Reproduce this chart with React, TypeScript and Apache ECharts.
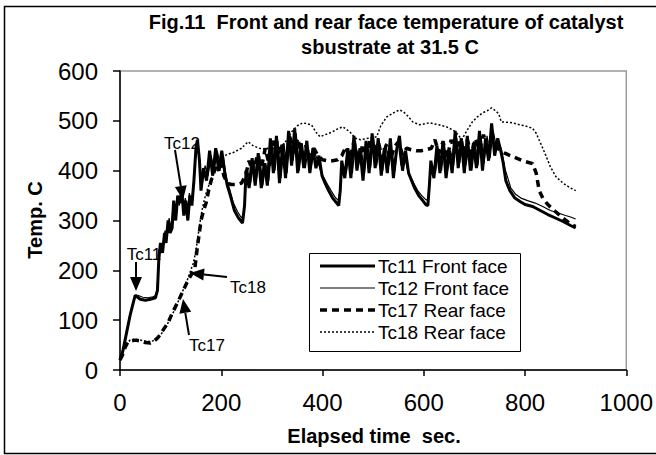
import React, { useEffect, useRef } from "react";
import * as echarts from "echarts";

const FONT = "'Liberation Sans', Arial, sans-serif";

const seriesNames = ["Tc11 Front face", "Tc12 Front face", "Tc17 Rear face", "Tc18 Rear face"];
const titleLines = ["Fig.11  Front and rear face temperature of catalyst", "sbustrate at 31.5 C"];
const xAxisTitle = "Elapsed time  sec.";
const yAxisTitle = "Temp. C";
const annotationLabels = ["Tc11", "Tc12", "Tc17", "Tc18"];

// [elapsed time (s), temperature (C)]
const tc11: number[][] = [
  [0, 20], [5, 35], [10, 60], [15, 85], [20, 110], [25, 130], [30, 150], [35, 146], [40, 142], [50, 140], [60, 142], [70, 145],
  [74, 160], [77, 230], [80, 255], [84, 235], [88, 275], [91, 255], [95, 300], [99, 275], [103, 285], [106, 340], [110, 300],
  [114, 350], [118, 335], [122, 360], [126, 310], [130, 340], [134, 300], [138, 350], [142, 330], [146, 380], [150, 445],
  [153, 462], [157, 420], [160, 360], [165, 405], [171, 380], [177, 440], [183, 390], [189, 445], [195, 400], [201, 440],
  [207, 395], [212, 370], [218, 350], [226, 320], [234, 305], [242, 295], [246, 330], [249, 400], [255, 365], [261, 425],
  [267, 370], [273, 435], [279, 365], [285, 415], [291, 370], [297, 465], [303, 395], [309, 470], [315, 375], [321, 450],
  [327, 385], [333, 480], [339, 410], [345, 485], [351, 395], [357, 455], [363, 405], [369, 460], [375, 395], [381, 445],
  [387, 405], [393, 430], [399, 390], [405, 375], [412, 360], [420, 345], [428, 335], [432, 330], [435, 360], [438, 420],
  [444, 385], [450, 445], [456, 385], [462, 470], [468, 400], [474, 445], [480, 380], [486, 460], [492, 395], [498, 475],
  [504, 405], [510, 465], [516, 390], [522, 445], [528, 395], [534, 465], [540, 385], [546, 440], [552, 470], [558, 400],
  [564, 440], [570, 395], [576, 380], [582, 365], [590, 350], [598, 340], [604, 332], [608, 330], [611, 370], [614, 420],
  [620, 385], [626, 450], [632, 395], [638, 460], [644, 385], [650, 440], [656, 395], [662, 480], [668, 405], [674, 465],
  [680, 395], [686, 470], [692, 400], [698, 455], [704, 405], [710, 480], [716, 400], [722, 465], [728, 420], [734, 495],
  [740, 430], [746, 465], [752, 440], [757, 415], [762, 380], [770, 360], [780, 345], [790, 338], [800, 332], [815, 328],
  [830, 320], [845, 312], [860, 305], [875, 298], [890, 290], [900, 285],
];

const tc12: number[][] = [
  [0, 25], [5, 40], [10, 62], [15, 88], [20, 112], [25, 132], [30, 148], [35, 150], [45, 146], [55, 145], [65, 147], [72, 150],
  [76, 200], [80, 245], [85, 250], [89, 280], [93, 265], [97, 305], [101, 285], [105, 330], [109, 310], [113, 345], [117, 330],
  [121, 350], [125, 325], [129, 345], [133, 315], [137, 355], [141, 335], [147, 390], [151, 450], [154, 455], [158, 400],
  [162, 370], [168, 410], [174, 390], [180, 430], [186, 400], [192, 440], [198, 410], [204, 430], [210, 385], [216, 365],
  [224, 335], [232, 318], [240, 305], [245, 315], [248, 380], [252, 400], [258, 375], [264, 420], [270, 385], [276, 430],
  [282, 370], [288, 415], [294, 380], [300, 455], [306, 400], [312, 460], [318, 385], [324, 455], [330, 395], [336, 470],
  [342, 420], [348, 475], [354, 400], [360, 455], [366, 405], [372, 445], [378, 410], [384, 440], [390, 420], [396, 400],
  [403, 385], [410, 372], [418, 358], [426, 345], [432, 340], [436, 380], [441, 410], [447, 395], [453, 440], [459, 395],
  [465, 460], [471, 410], [477, 440], [483, 395], [489, 455], [495, 405], [501, 465], [507, 410], [513, 450], [519, 400],
  [525, 455], [531, 410], [537, 440], [543, 400], [549, 460], [555, 410], [561, 435], [567, 405], [573, 390], [580, 375],
  [588, 360], [596, 350], [604, 342], [609, 340], [612, 385], [617, 410], [623, 395], [629, 445], [635, 400], [641, 450],
  [647, 400], [653, 440], [659, 410], [665, 465], [671, 415], [677, 460], [683, 410], [689, 445], [695, 400], [701, 455],
  [707, 410], [713, 470], [719, 415], [725, 470], [731, 425], [737, 480], [743, 450], [749, 455], [754, 440], [760, 405],
  [766, 385], [772, 365], [782, 352], [792, 345], [805, 340], [820, 335], [835, 328], [850, 320], [865, 315], [880, 310],
  [890, 307], [900, 303],
];

const tc17: number[][] = [
  [0, 20], [5, 30], [10, 45], [15, 55], [20, 58], [30, 60], [40, 58], [50, 55], [60, 54], [65, 56], [75, 65], [85, 80],
  [95, 95], [105, 118], [115, 138], [125, 160], [132, 175], [140, 190], [148, 205], [152, 240], [156, 270], [160, 300],
  [165, 320], [170, 335], [175, 360], [180, 380], [185, 395], [190, 410], [195, 400], [200, 420], [205, 390], [212, 375],
  [220, 372], [230, 372], [240, 375], [248, 390], [255, 420], [263, 395], [271, 430], [279, 405], [287, 445], [295, 410],
  [303, 460], [311, 425], [319, 455], [327, 415], [335, 470], [343, 435], [351, 465], [359, 430], [367, 450], [375, 425],
  [383, 445], [391, 430], [400, 422], [410, 420], [420, 420], [430, 422], [438, 430], [446, 448], [454, 425], [462, 458],
  [470, 420], [478, 448], [486, 425], [494, 462], [502, 435], [510, 458], [518, 425], [526, 452], [534, 422], [542, 448],
  [550, 458], [558, 432], [566, 445], [575, 442], [585, 440], [595, 440], [605, 442], [615, 445], [622, 462], [630, 435],
  [638, 458], [646, 425], [654, 462], [662, 435], [670, 458], [678, 428], [686, 462], [694, 432], [702, 465], [710, 440],
  [718, 472], [726, 445], [734, 465], [742, 450], [750, 441], [760, 435], [776, 428], [795, 420], [815, 414], [822, 395],
  [828, 360], [835, 345], [845, 332], [860, 318], [875, 305], [890, 293], [900, 288],
];

const tc18: number[][] = [
  [0, 22], [5, 35], [10, 48], [15, 55], [20, 60], [30, 62], [40, 60], [50, 58], [60, 57], [70, 60], [80, 70], [90, 85],
  [100, 105], [110, 125], [120, 150], [130, 172], [138, 195], [145, 215], [150, 240], [155, 275], [160, 310], [165, 335],
  [170, 355], [177, 375], [185, 395], [197, 420], [210, 432], [225, 437], [240, 445], [253, 458], [263, 450], [275, 445],
  [290, 443], [300, 455], [310, 441], [320, 450], [330, 462], [339, 478], [350, 490], [361, 496], [370, 494], [378, 492],
  [388, 476], [395, 468], [405, 472], [420, 478], [430, 484], [440, 488], [454, 478], [465, 465], [475, 462], [490, 465],
  [507, 468], [515, 490], [527, 508], [540, 516], [552, 522], [560, 518], [570, 508], [578, 498], [592, 492], [611, 496],
  [630, 492], [645, 488], [660, 480], [668, 472], [675, 462], [685, 480], [696, 498], [706, 508], [716, 516], [725, 520],
  [734, 526], [742, 520], [748, 514], [753, 498], [765, 497], [776, 496], [789, 492], [800, 490], [815, 485], [822, 475],
  [828, 461], [835, 445], [842, 428], [850, 408], [861, 388], [875, 375], [890, 365], [900, 360],
];

const lineStyles = [
  { width: 3, type: "solid" as any },
  { width: 1.2, type: "solid" as any },
  { width: 3.5, type: [7, 5] as any },
  { width: 1.5, type: [2, 2] as any },
];

function arrow(x1: number, y1: number, x2: number, y2: number, head = 14, half = 6) {
  const dx = x2 - x1, dy = y2 - y1;
  const L = Math.hypot(dx, dy);
  const ux = dx / L, uy = dy / L;
  const bx = x2 - ux * head, by = y2 - uy * head;
  return [
    { type: "line", z: 100, shape: { x1, y1, x2: bx, y2: by }, style: { stroke: "#000", lineWidth: 2 } },
    {
      type: "polygon", z: 100,
      shape: { points: [[x2, y2], [bx - uy * half, by + ux * half], [bx + uy * half, by - ux * half]] },
      style: { fill: "#000" },
    },
  ];
}

export default function App() {
  const ref = useRef<HTMLDivElement>(null);
  useEffect(() => {
    if (!ref.current) return;
    const chart = echarts.init(ref.current, undefined, { renderer: "svg" });
    const datas = [tc11, tc12, tc17, tc18];
    const txt = (text: string, x: number, y: number, size: number, bold = false, extra: any = {}, align = "center") => ({
      type: "text", z: 100, x, y,
      style: { text, fill: "#000", font: `${bold ? "bold " : ""}${size}px ${FONT}`, align, verticalAlign: "middle" },
      ...extra,
    });
    const legendBox = { x: 309, y: 253, w: 211, h: 98 };
    const rowY = [266, 288, 310, 332];
    const legendEls: any[] = [
      { type: "rect", z: 99, shape: { x: legendBox.x + 0.5, y: legendBox.y + 0.5, width: legendBox.w, height: legendBox.h }, style: { fill: "#fff", stroke: "#000", lineWidth: 1 } },
    ];
    seriesNames.forEach((name, i) => {
      legendEls.push({
        type: "line", z: 100,
        shape: { x1: 320, y1: rowY[i], x2: 375, y2: rowY[i] },
        style: { stroke: "#000", lineWidth: lineStyles[i].width, lineDash: lineStyles[i].type === "solid" ? null : lineStyles[i].type },
      });
      legendEls.push(txt(name, 378, rowY[i], 19, false, {}, "left"));
    });
    chart.setOption({
      animation: false,
      backgroundColor: "#fff",
      grid: { left: 120, right: 29, top: 71, bottom: 85, show: true, borderColor: "#9a9a9a", borderWidth: 1.5 },
      xAxis: {
        type: "value", min: 0, max: 1000, interval: 200,
        axisLine: { lineStyle: { color: "#000", width: 1.5 } },
        axisTick: { length: 6, lineStyle: { color: "#000", width: 1.5 } },
        splitLine: { show: false },
        axisLabel: { fontSize: 24, color: "#000", margin: 20, fontFamily: FONT, formatter: (v: number) => String(v) },
      },
      yAxis: {
        type: "value", min: 0, max: 600, interval: 100,
        axisLine: { show: true, lineStyle: { color: "#000", width: 1.5 } },
        axisTick: { show: true, length: 7, lineStyle: { color: "#000", width: 1.5 } },
        splitLine: { show: false },
        axisLabel: { fontSize: 24, color: "#000", margin: 22, fontFamily: FONT, formatter: (v: number) => String(v) },
      },
      series: seriesNames.map((name, i) => ({
        name, type: "line", data: datas[i], symbol: "none",
        lineStyle: { ...lineStyles[i], color: "#000" },
        z: 10 - i,
      })),
      graphic: [
        { type: "rect", z: 100, shape: { x: 4.5, y: 6.5, width: 700, height: 447 }, style: { fill: "none", stroke: "#000", lineWidth: 1.5 } },
        txt(titleLines[0], 386, 22, 20, true),
        txt(titleLines[1], 390, 47, 20, true),
        txt(xAxisTitle, 374, 436, 20, true),
        txt(yAxisTitle, 35, 220, 20, true, { rotation: Math.PI / 2 }),
        txt(annotationLabels[0], 144, 254, 17),
        txt(annotationLabels[1], 182, 143, 17),
        txt(annotationLabels[2], 207, 345, 17),
        txt(annotationLabels[3], 248, 287, 17),
        ...arrow(136, 262, 136, 291),
        ...arrow(175, 150, 183, 200),
        ...arrow(189, 335, 183, 299),
        ...arrow(227, 277, 190, 273),
        ...legendEls,
      ],
    });
    return () => chart.dispose();
  }, []);
  return <div ref={ref} style={{ position: "fixed", left: 0, top: 0, width: 656, height: 455 }} />;
}
